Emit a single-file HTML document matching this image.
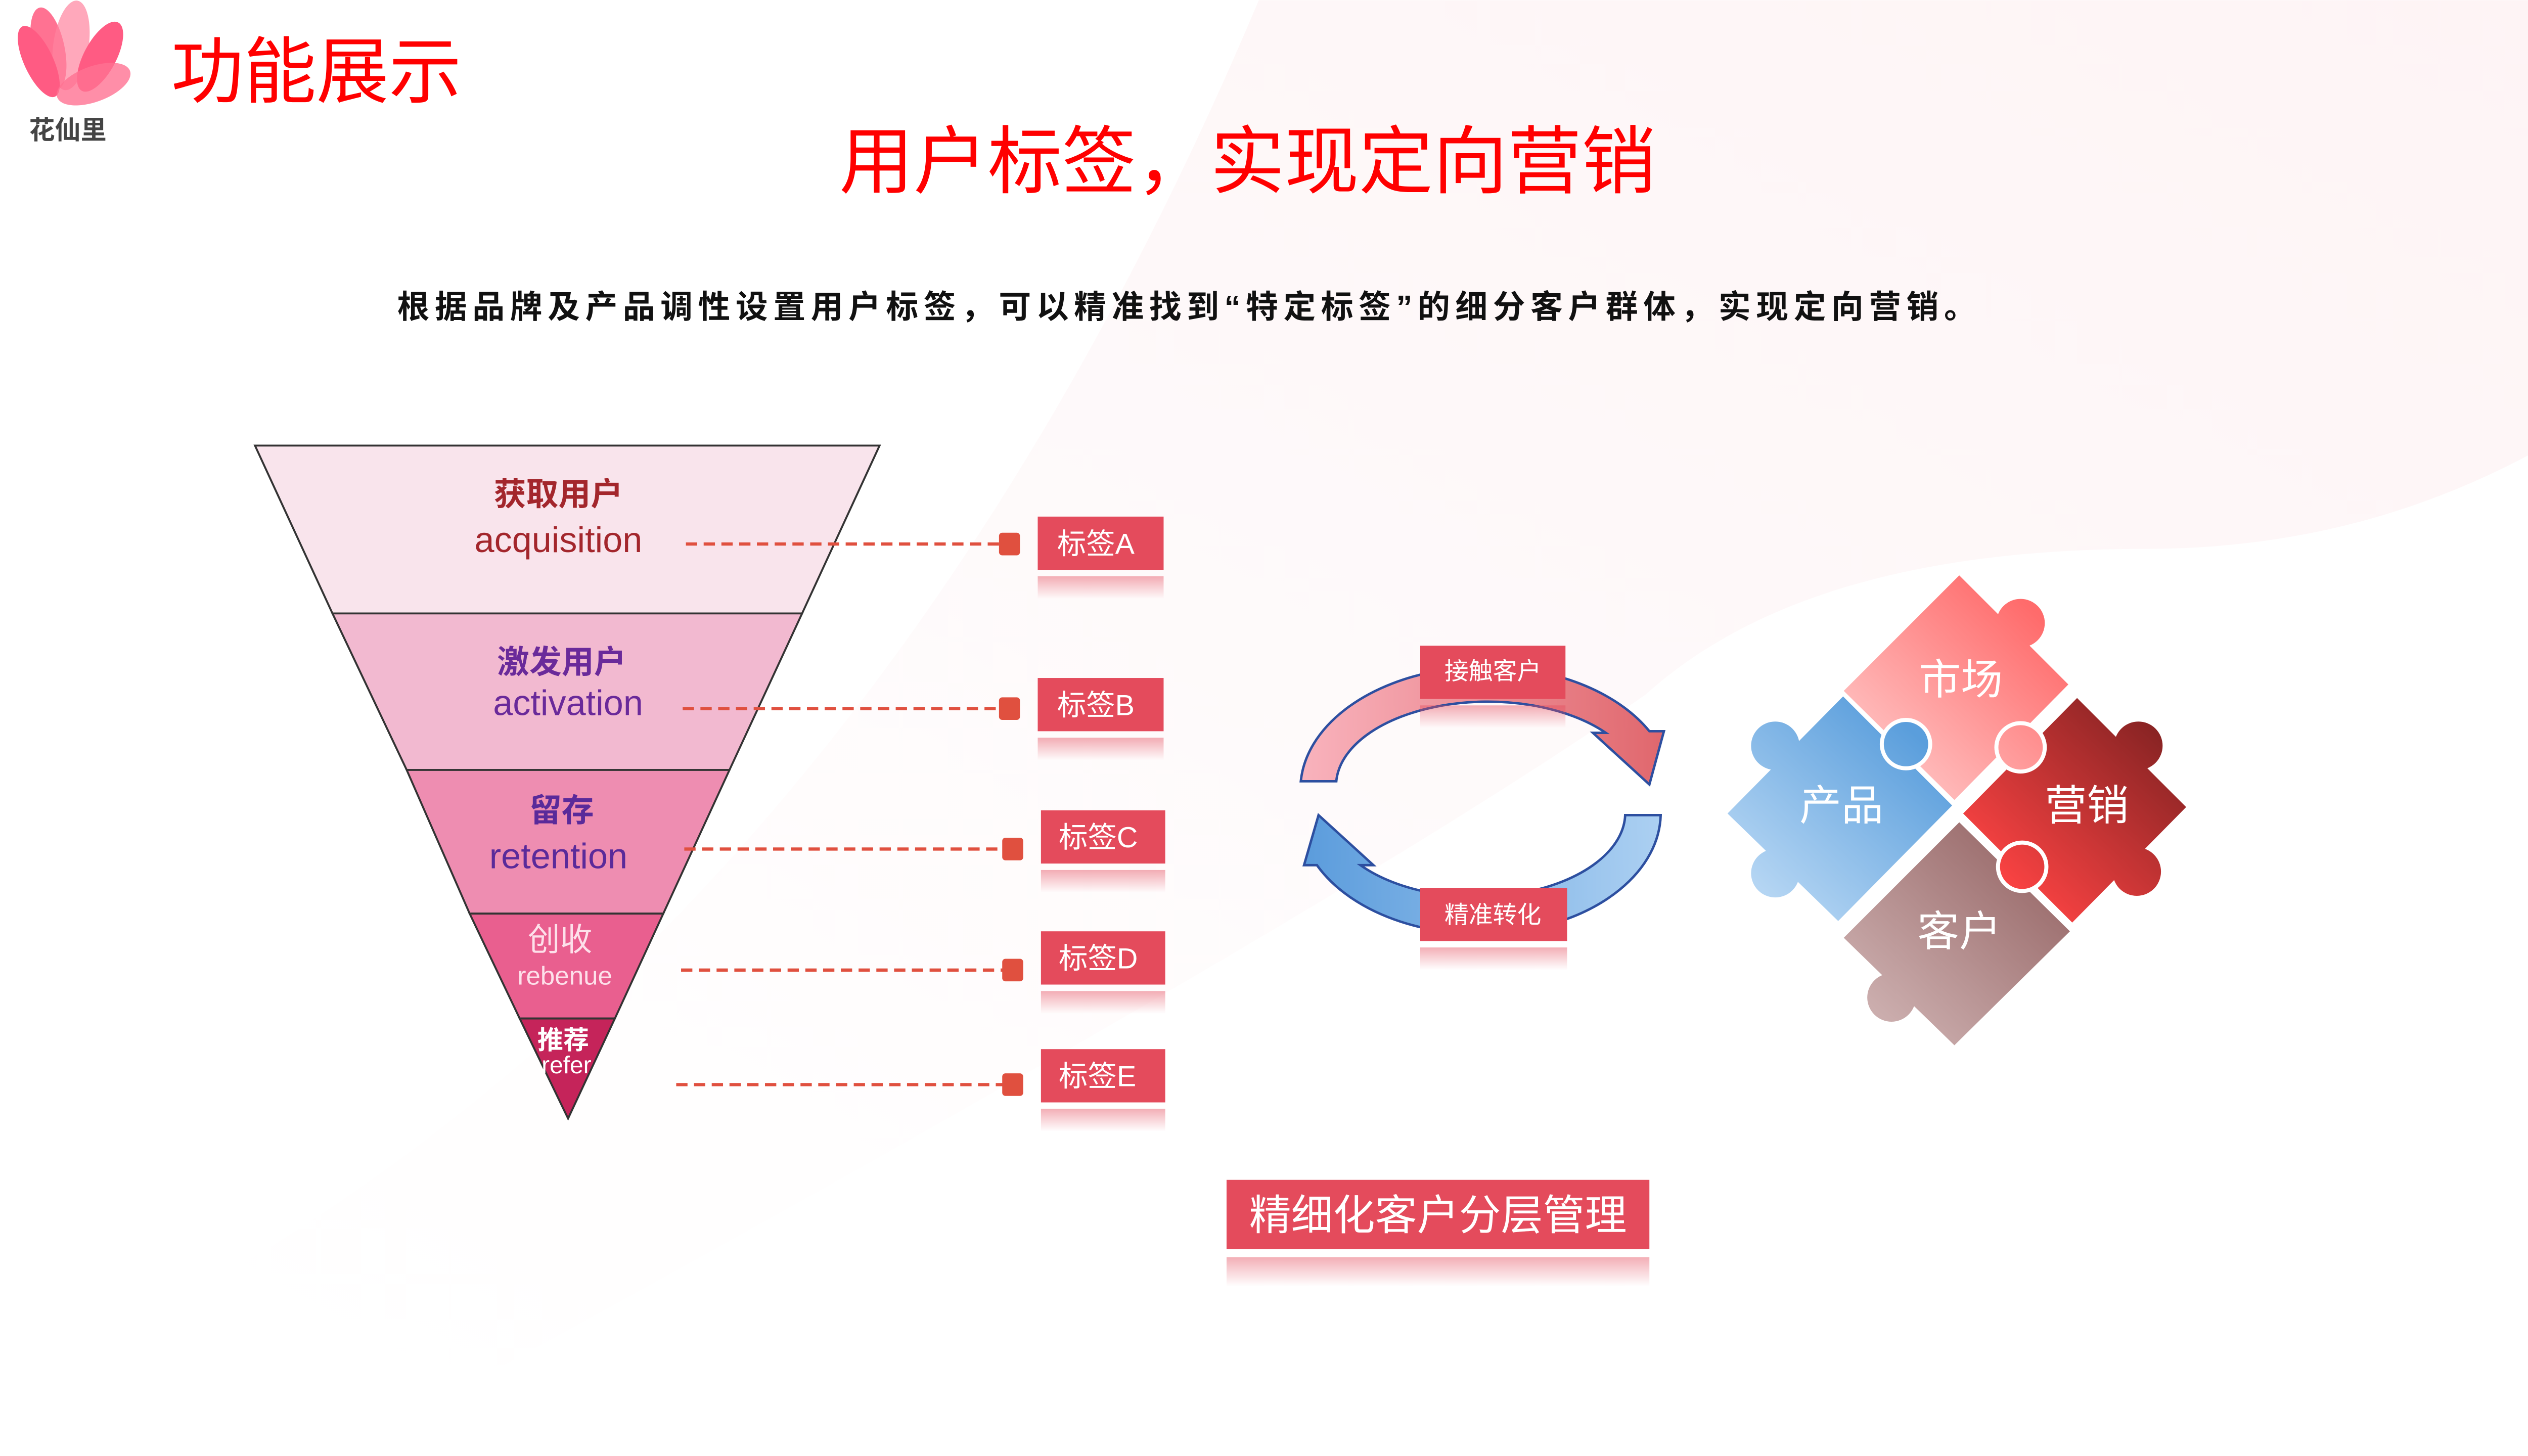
<!DOCTYPE html>
<html><head><meta charset="utf-8"><style>
html,body{margin:0;padding:0;background:#fff;width:5120px;height:2880px;overflow:hidden}
svg{display:block}
text{font-family:"Liberation Sans","Noto Sans CJK SC",sans-serif}
</style></head><body>
<svg width="5120" height="2880" viewBox="0 0 1604 902" xmlns="http://www.w3.org/2000/svg">
<defs>
<linearGradient id="bg" x1="1" y1="0" x2="0" y2="1"><stop offset="0" stop-color="#fce9eb"/><stop offset="0.5" stop-color="#fef5f6"/><stop offset="1" stop-color="#fff" stop-opacity="0"/></linearGradient>
<linearGradient id="ta" x1="0" y1="0" x2="1" y2="0"><stop offset="0" stop-color="#f9b3bd"/><stop offset="1" stop-color="#e0676d"/></linearGradient>
<linearGradient id="ba" x1="0" y1="0" x2="1" y2="0"><stop offset="0" stop-color="#5b9cdc"/><stop offset="1" stop-color="#acd0f2"/></linearGradient>
<linearGradient id="refl" x1="0" y1="0" x2="0" y2="1"><stop offset="0" stop-color="#e44b5c" stop-opacity="0.45"/><stop offset="1" stop-color="#e44b5c" stop-opacity="0"/></linearGradient>
<linearGradient id="gt" gradientUnits="userSpaceOnUse" x1="1195" y1="490" x2="1290" y2="390"><stop offset="0" stop-color="#ffc4c4"/><stop offset="1" stop-color="#ff6b6b"/></linearGradient>
<linearGradient id="gl" gradientUnits="userSpaceOnUse" x1="1125" y1="565" x2="1215" y2="465"><stop offset="0" stop-color="#b4d5f3"/><stop offset="1" stop-color="#5a9edc"/></linearGradient>
<linearGradient id="gr" gradientUnits="userSpaceOnUse" x1="1265" y1="560" x2="1360" y2="460"><stop offset="0" stop-color="#ff4444"/><stop offset="1" stop-color="#8a2424"/></linearGradient>
<linearGradient id="gb" gradientUnits="userSpaceOnUse" x1="1195" y1="640" x2="1290" y2="540"><stop offset="0" stop-color="#cbadad"/><stop offset="1" stop-color="#996a6a"/></linearGradient>
</defs>
<!-- background wave -->
<path d="M780,0 L1604,0 L1604,260 Q1480,340 1330,340 Q1120,340 1020,430 Q820,570 210,902 L0,902 L0,860 Q510,640 780,0 Z" fill="url(#bg)" opacity="0.5"/>
<!-- logo -->
<g opacity="0.85">
<ellipse cx="30" cy="30" rx="10" ry="26" fill="#ff5a80" transform="rotate(-12 30 30)"/>
<ellipse cx="44" cy="28" rx="11" ry="28" fill="#ff6d8e" opacity="0.7" transform="rotate(8 44 28)"/>
<ellipse cx="24" cy="38" rx="9" ry="24" fill="#ff3f6e" transform="rotate(-25 24 38)"/>
<ellipse cx="62" cy="35" rx="10" ry="24" fill="#ff3f6e" transform="rotate(28 62 35)"/>
<ellipse cx="58" cy="52" rx="24" ry="11" fill="#ff5a80" opacity="0.8" transform="rotate(-20 58 52)"/>
</g>
<text x="18" y="86" font-size="16" font-weight="bold" fill="#444">花仙里</text>
<text x="106" y="60" font-size="45" fill="#ff0000">功能展示</text>
<text x="773" y="116" font-size="46" fill="#ff0000" text-anchor="middle">用户标签，实现定向营销</text>
<text x="737" y="197" font-size="20" font-weight="bold" fill="#111" text-anchor="middle" letter-spacing="3.3">根据品牌及产品调性设置用户标签，可以精准找到“特定标签”的细分客户群体，实现定向营销。</text>
<!-- funnel -->
<g stroke="#333" stroke-width="1.2">
<polygon points="158,276 545,276 497,380 206,380" fill="#f9e4ec"/>
<polygon points="206,380 497,380 452,477 252,477" fill="#f2b9d0"/>
<polygon points="252,477 452,477 411,566 291,566" fill="#ee8db1"/>
<polygon points="291,566 411,566 381,631 322,631" fill="#e95f8f"/>
<polygon points="322,631 381,631 352,693" fill="#c5245a"/>
</g>
<g text-anchor="middle">
<text x="346" y="313" font-size="20" font-weight="bold" fill="#a3262c">获取用户</text>
<text x="346" y="342" font-size="22" fill="#a3262c">acquisition</text>
<text x="348" y="417" font-size="20" font-weight="bold" fill="#6a2a9a">激发用户</text>
<text x="352" y="443" font-size="22" fill="#6a2a9a">activation</text>
<text x="348" y="509" font-size="20" font-weight="bold" fill="#5a2a9a">留存</text>
<text x="346" y="538" font-size="22" fill="#5a2a9a">retention</text>
<text x="347" y="589" font-size="20" fill="#fde0ea">创收</text>
<text x="350" y="610" font-size="16" fill="#fde0ea">rebenue</text>
<text x="349" y="650" font-size="16" font-weight="bold" fill="#fff">推荐</text>
<text x="351" y="665" font-size="15" fill="#fff">refer</text>
</g>
<!-- dashed connectors -->
<g stroke="#e0503f" stroke-width="2" stroke-dasharray="7,4" fill="none">
<line x1="425" y1="337" x2="620" y2="337"/>
<line x1="423" y1="439" x2="620" y2="439"/>
<line x1="424" y1="526" x2="622" y2="526"/>
<line x1="422" y1="601" x2="622" y2="601"/>
<line x1="419" y1="672" x2="622" y2="672"/>
</g>
<g fill="#e0503f">
<rect x="619" y="330" width="13" height="14" rx="2"/>
<rect x="619" y="432" width="13" height="14" rx="2"/>
<rect x="621" y="519" width="13" height="14" rx="2"/>
<rect x="621" y="594" width="13" height="14" rx="2"/>
<rect x="621" y="665" width="13" height="14" rx="2"/>
</g>
<!-- tags -->
<g font-size="18" fill="#fff">
<rect x="643" y="320" width="78" height="33" fill="#e44b5c"/><rect x="643" y="357" width="78" height="14" fill="url(#refl)"/><text x="655" y="343">标签A</text>
<rect x="643" y="420" width="78" height="33" fill="#e44b5c"/><rect x="643" y="457" width="78" height="14" fill="url(#refl)"/><text x="655" y="443">标签B</text>
<rect x="645" y="502" width="77" height="33" fill="#e44b5c"/><rect x="645" y="539" width="77" height="14" fill="url(#refl)"/><text x="656" y="525">标签C</text>
<rect x="645" y="577" width="77" height="33" fill="#e44b5c"/><rect x="645" y="614" width="77" height="14" fill="url(#refl)"/><text x="656" y="600">标签D</text>
<rect x="645" y="650" width="77" height="33" fill="#e44b5c"/><rect x="645" y="687" width="77" height="14" fill="url(#refl)"/><text x="656" y="673">标签E</text>
</g>
<!-- cycle arrows -->
<path d="M806,484 A115 76 0 0 1 1022,453 L1031,453 L1022,486 L987,454 L995,454 A94 52 0 0 0 828,484 Z" fill="url(#ta)" stroke="#2d4fa0" stroke-width="1.5"/>
<path d="M1029,505 A112 75 0 0 1 816,536 L808,536 L817,505 L851,536 L843,536 A92 52 0 0 0 1007,505 Z" fill="url(#ba)" stroke="#2d4fa0" stroke-width="1.5"/>
<rect x="880" y="400" width="90" height="33" fill="#e44b5c"/><rect x="880" y="437" width="90" height="14" fill="url(#refl)"/>
<text x="925" y="421" font-size="15" fill="#fff" text-anchor="middle">接触客户</text>
<rect x="880" y="550" width="91" height="33" fill="#e44b5c"/><rect x="880" y="587" width="91" height="14" fill="url(#refl)"/>
<text x="925" y="572" font-size="15" fill="#fff" text-anchor="middle">精准转化</text>
<!-- puzzle -->
<g transform="translate(-28,-10)">
<g fill="url(#gb)"><polygon points="1242,518 1312,587 1239,659 1169,591" stroke="#fff" stroke-width="2"/><circle cx="1200" cy="628" r="15"/></g>
<g fill="url(#gr)"><polygon points="1315,441 1384,510 1312,583 1243,514" stroke="#fff" stroke-width="2"/><circle cx="1353" cy="472" r="15"/><circle cx="1352" cy="550" r="15"/><circle cx="1281" cy="547" r="15" stroke="#fff" stroke-width="2.5"/></g>
<g fill="url(#gt)"><polygon points="1242,365 1311,434 1239,507 1169,438" stroke="#fff" stroke-width="2"/><circle cx="1280" cy="396" r="15"/><circle cx="1280" cy="473" r="15" stroke="#fff" stroke-width="2.5"/></g>
<g fill="url(#gl)"><polygon points="1170,440 1239,509 1167,582 1097,514" stroke="#fff" stroke-width="2"/><circle cx="1128" cy="472" r="15"/><circle cx="1128" cy="551" r="15"/><circle cx="1209" cy="471" r="15" stroke="#fff" stroke-width="2.5"/></g>
<g fill="url(#gt)"><circle cx="1280" cy="473" r="13"/></g>
<g font-size="26" fill="#fff" text-anchor="middle">
<text x="1243" y="440">市场</text>
<text x="1169" y="518">产品</text>
<text x="1321" y="518">营销</text>
<text x="1242" y="596">客户</text>
</g>
</g>
<!-- bottom box -->
<rect x="760" y="731" width="262" height="43" fill="#e44b5c"/>
<rect x="760" y="779" width="262" height="18" fill="url(#refl)"/>
<text x="891" y="762" font-size="26" fill="#fff" text-anchor="middle">精细化客户分层管理</text>
</svg>
</body></html>
